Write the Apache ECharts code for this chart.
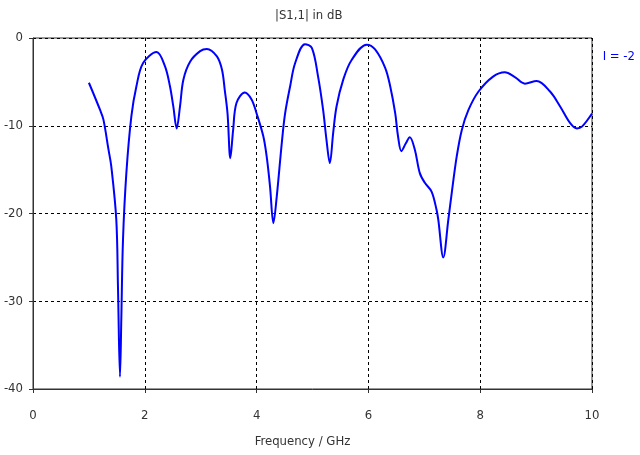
<!DOCTYPE html>
<html>
<head>
<meta charset="utf-8">
<script src="https://cdn.jsdelivr.net/npm/echarts@6/dist/echarts.min.js"></script>
<style>
  html, body { margin: 0; padding: 0; background: #fff; }
  #main { width: 640px; height: 455px; }
</style>
</head>
<body>
<div id="main"></div>
<script>
var freqGHz = [1.0, 1.2, 1.26, 1.35, 1.40, 1.49, 1.52, 1.556, 1.58, 1.61, 1.67, 1.76, 1.85, 1.97, 2.21, 2.36, 2.45, 2.51, 2.57, 2.63, 2.69, 2.81, 2.99, 3.11, 3.29, 3.38, 3.43, 3.48, 3.53, 3.58, 3.64, 3.79, 3.91, 4.0, 4.12, 4.18, 4.24, 4.30, 4.36, 4.45, 4.51, 4.60, 4.69, 4.865, 4.99, 5.10, 5.19, 5.25, 5.31, 5.37, 5.43, 5.55, 5.70, 5.97, 6.12, 6.30, 6.39, 6.48, 6.53, 6.59, 6.67, 6.74, 6.83, 6.92, 7.01, 7.13, 7.22, 7.25, 7.34, 7.43, 7.49, 7.58, 7.67, 7.79, 7.97, 8.23, 8.44, 8.62, 8.80, 9.01, 9.25, 9.43, 9.61, 9.73, 9.82, 10.0];
var s11dB = [-5.1, -8.2, -9.3, -12.7, -14.6, -20.7, -28.3, -38.6, -32, -23, -15.4, -8.9, -5.5, -2.85, -1.6, -3.2, -5.5, -7.8, -10.3, -7.8, -4.75, -2.7, -1.5, -1.25, -2.1, -3.6, -5.9, -8.6, -13.7, -10.5, -7.4, -6.2, -7.0, -8.6, -11.2, -13.5, -16.9, -21.1, -18.1, -12, -8.6, -5.5, -2.85, -0.7, -1.15, -4.4, -8.2, -11.6, -14.25, -10.8, -7.8, -4.75, -2.5, -0.76, -1.3, -3.4, -5.5, -8.6, -11.2, -12.9, -12.0, -11.3, -12.7, -15.4, -16.5, -17.5, -19.6, -20.7, -25.0, -20.7, -17.7, -13.5, -10.5, -8.2, -6.1, -4.4, -3.9, -4.45, -5.2, -4.9, -6.1, -7.8, -9.7, -10.3, -10.1, -8.6];
var seriesName = 'I = -2';

var points = freqGHz.map(function (f, i) { return [f, s11dB[i]]; });
var font = 'DejaVu Sans Condensed';

var chart = echarts.init(document.getElementById('main'));
chart.setOption({
    animation: false,
    title: {
        text: '|S1,1| in dB',
        left: 270,
        top: 4,
        textStyle: { fontFamily: font, fontSize: 13, fontWeight: 'normal', color: '#333' }
    },
    legend: {
        data: [{ name: seriesName, icon: 'none' }],
        right: 0,
        top: 45,
        itemWidth: 0,
        itemGap: 0,
        textStyle: { fontFamily: font, fontSize: 13, color: '#0000ff' }
    },
    grid: {
        left: 33, right: 48, top: 38, bottom: 66,
        show: true, borderColor: '#333', borderWidth: 1
    },
    xAxis: {
        type: 'value', min: 0, max: 10, interval: 2,
        name: 'Frequency / GHz',
        nameLocation: 'middle',
        nameGap: 46,
        nameTextStyle: { fontFamily: font, fontSize: 13, color: '#333', padding: [0, 20, 0, 0] },
        axisLine: { onZero: false, lineStyle: { color: '#333' } },
        axisTick: { show: true, length: 4, lineStyle: { color: '#333' } },
        axisLabel: { fontFamily: font, fontSize: 13, color: '#333', margin: 20 },
        splitLine: { lineStyle: { color: '#000', type: [3, 3] } }
    },
    yAxis: {
        type: 'value', min: -40, max: 0, interval: 10,
        axisLine: { show: true, lineStyle: { color: '#333' } },
        axisTick: { show: true, length: 4, lineStyle: { color: '#333' } },
        axisLabel: { fontFamily: font, fontSize: 13, color: '#333', margin: 10 },
        splitLine: { lineStyle: { color: '#000', type: [3, 3] } }
    },
    series: [{
        name: seriesName,
        type: 'line',
        data: points,
        smooth: 0.35,
        showSymbol: false,
        lineStyle: { color: '#0000ff', width: 2 },
        itemStyle: { color: '#0000ff' }
    }]
});
</script>
</body>
</html>
